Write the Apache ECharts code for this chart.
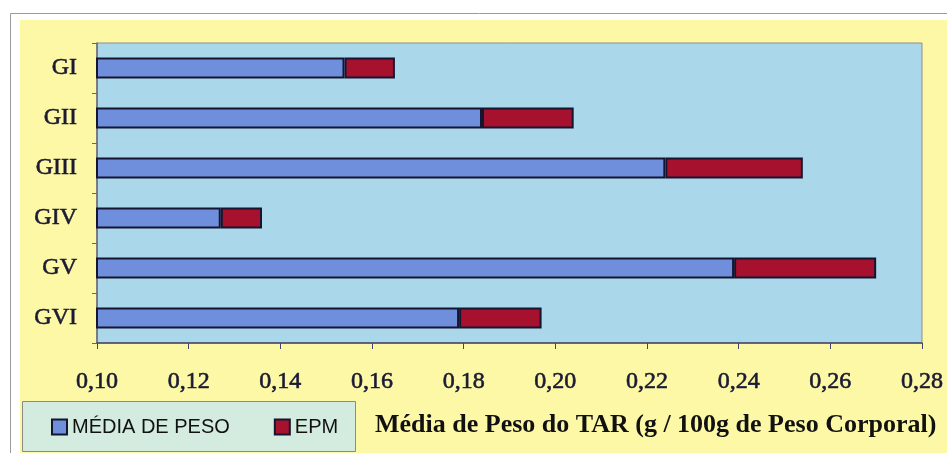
<!DOCTYPE html>
<html>
<head>
<meta charset="utf-8">
<script src="https://cdn.jsdelivr.net/npm/echarts@6/dist/echarts.min.js"></script>
<style>html,body{margin:0;padding:0;background:#fff}#c{width:947px;height:453px}</style>
</head>
<body>
<div id="c"></div>
<script>
var categories = ['GI', 'GII', 'GIII', 'GIV', 'GV', 'GVI'];
var mediaPeso = [0.154, 0.184, 0.224, 0.127, 0.239, 0.179];
var epm = [0.011, 0.020, 0.030, 0.009, 0.031, 0.018];
var xTickLabels = ['0,10', '0,12', '0,14', '0,16', '0,18', '0,20', '0,22', '0,24', '0,26', '0,28'];
var seriesNames = ['MÉDIA DE PESO', 'EPM'];
var axisTitle = 'Média de Peso do TAR (g / 100g de Peso Corporal)';

var chart = echarts.init(document.getElementById('c'));
var serif = "'Liberation Serif', 'Times New Roman', serif";
chart.setOption({
  animation: false,
  backgroundColor: '#ffffff',
  graphic: [
    { type: 'rect', z: -10, shape: { x: 10.5, y: 13.5, width: 940, height: 445 }, style: { fill: '#ffffff', stroke: '#9a9a9a', lineWidth: 1 } },
    { type: 'rect', z: -9, shape: { x: 20, y: 20, width: 927, height: 433 }, style: { fill: '#fdf8a6' } },
    { type: 'rect', z: -8, shape: { x: 22.5, y: 401.5, width: 333, height: 50 }, style: { fill: '#d4ebdf', stroke: '#8a8a8a', lineWidth: 1 } }
  ],
  title: {
    text: axisTitle,
    left: 370, top: 407,
    textStyle: { fontFamily: serif, fontWeight: 'bold', fontSize: 26, color: '#111111' }
  },
  legend: {
    left: 46, top: 412,
    itemWidth: 15, itemHeight: 15, itemGap: 44,
    icon: 'rect',
    data: seriesNames,
    textStyle: { fontFamily: "'Liberation Sans', Arial, sans-serif", fontSize: 20, color: '#111111' }
  },
  grid: {
    left: 97, right: 25, top: 43, bottom: 110,
    show: true, backgroundColor: '#aad8ea', borderColor: '#8f8f8f', borderWidth: 1
  },
  xAxis: {
    type: 'value', min: 0.10, max: 0.28, interval: 0.02,
    axisLine: { show: true, lineStyle: { color: '#444466', width: 1.5 } },
    axisTick: { show: true, length: 6, lineStyle: { color: '#444466' } },
    splitLine: { show: false },
    axisLabel: {
      margin: 27,
      fontFamily: serif, fontSize: 24, color: '#1a1a33',
      textBorderColor: '#1a1a33', textBorderWidth: 0.6,
      formatter: function (v) { return xTickLabels[Math.round((v - 0.10) / 0.02)]; }
    }
  },
  yAxis: {
    type: 'category', data: categories, inverse: true,
    axisLine: { show: true, lineStyle: { color: '#666677', width: 1.5 } },
    axisTick: { show: true, length: 5, lineStyle: { color: '#666677' } },
    axisLabel: {
      margin: 20, fontFamily: serif, fontSize: 24, color: '#1a1a33',
      textBorderColor: '#1a1a33', textBorderWidth: 0.6
    }
  },
  series: [
    {
      name: seriesNames[0], type: 'bar', stack: 'a', data: mediaPeso, barWidth: '42%',
      itemStyle: { color: '#6f8edb', borderColor: '#151530', borderWidth: 2 }
    },
    {
      name: seriesNames[1], type: 'bar', stack: 'a', data: epm, barWidth: '42%',
      itemStyle: { color: '#a6112e', borderColor: '#151530', borderWidth: 2 }
    }
  ]
});
</script>
</body>
</html>
